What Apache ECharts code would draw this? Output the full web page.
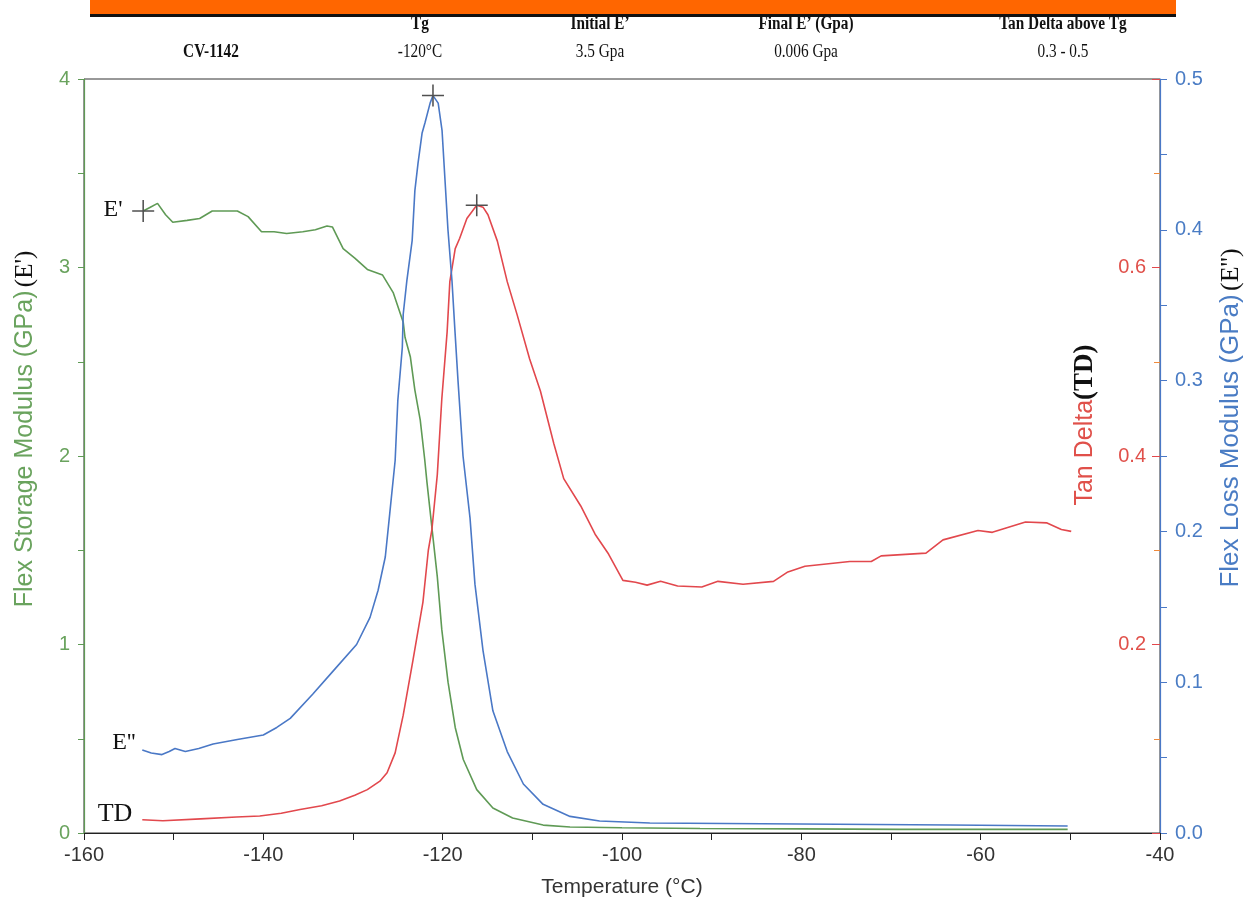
<!DOCTYPE html>
<html>
<head>
<meta charset="utf-8">
<script src="https://cdn.jsdelivr.net/npm/echarts@6/dist/echarts.min.js"></script>
<style>html,body{margin:0;padding:0;background:#fff}#c{width:1250px;height:902px}</style>
</head>
<body>
<div id="c"></div>
<script>
// ---- Data (temperature °C, value) ----
const ePrimeTemp = [-153.4,-152.6,-151.8,-150.9,-150.1,-148.5,-147.1,-145.7,-144.3,-142.9,-141.7,-140.2,-138.8,-137.4,-135.6,-134.2,-132.9,-132.3,-131.1,-129.8,-128.4,-126.7,-125.5,-124.4,-124.2,-123.6,-123.1,-122.5,-122.0,-121.75,-121.2,-120.6,-120.1,-119.4,-118.6,-117.7,-116.2,-114.4,-112.2,-108.8,-105.8,-100,-91.3,-80,-69,-60,-50.3];
const ePrimeVal  = [3.30,3.32,3.34,3.28,3.24,3.25,3.26,3.30,3.30,3.30,3.27,3.19,3.19,3.18,3.19,3.20,3.22,3.215,3.10,3.05,2.99,2.96,2.865,2.71,2.63,2.525,2.35,2.19,1.98,1.86,1.62,1.36,1.08,0.80,0.56,0.39,0.23,0.133,0.08,0.042,0.032,0.028,0.024,0.022,0.019,0.019,0.019];

const eDoubleTemp = [-153.5,-152.5,-151.3,-150.5,-149.85,-148.7,-147.2,-145.6,-142.9,-140.0,-138.5,-137.0,-134.5,-132.2,-129.6,-128.1,-127.2,-126.4,-125.9,-125.3,-125.0,-124.5,-124.4,-124.0,-123.4,-123.1,-122.75,-122.3,-121.97,-121.4,-121.08,-120.5,-120.07,-119.74,-119.41,-118.96,-118.63,-118.29,-117.73,-116.95,-116.4,-115.5,-114.4,-112.8,-111.0,-108.8,-105.8,-102.5,-96.9,-80.2,-63.4,-50.3];
const eDoubleVal  = [0.055,0.053,0.052,0.054,0.056,0.054,0.056,0.059,0.062,0.065,0.070,0.076,0.092,0.1075,0.125,0.143,0.161,0.183,0.212,0.247,0.287,0.322,0.344,0.366,0.393,0.426,0.444,0.464,0.471,0.484,0.489,0.484,0.466,0.433,0.400,0.366,0.333,0.300,0.250,0.209,0.165,0.121,0.081,0.054,0.0325,0.019,0.011,0.008,0.0066,0.006,0.0053,0.0046];

const tanDeltaTemp = [-153.5,-151.2,-147,-143,-140.4,-138,-135.9,-133.5,-131.5,-129.8,-128.4,-127.0,-126.2,-125.3,-124.4,-123.3,-122.2,-121.6,-121.2,-120.6,-120.1,-119.5,-119.2,-118.6,-118.1,-117.3,-116.2,-115.5,-114.95,-113.9,-112.8,-111.7,-110.3,-109.1,-107.6,-106.5,-104.6,-103.0,-101.5,-99.9,-98.5,-97.2,-95.7,-93.8,-91.1,-89.3,-86.5,-83.1,-81.5,-79.6,-74.6,-72.2,-71.1,-66.1,-64.2,-60.3,-58.7,-55.0,-52.6,-51.0,-49.9];
const tanDeltaVal  = [0.014,0.013,0.015,0.017,0.018,0.021,0.025,0.029,0.034,0.040,0.046,0.055,0.064,0.085,0.125,0.184,0.245,0.300,0.322,0.380,0.460,0.532,0.585,0.620,0.631,0.652,0.666,0.664,0.656,0.628,0.585,0.550,0.503,0.469,0.413,0.376,0.347,0.317,0.296,0.268,0.266,0.263,0.267,0.262,0.261,0.267,0.264,0.267,0.277,0.283,0.288,0.288,0.294,0.297,0.311,0.321,0.319,0.330,0.329,0.322,0.320];

const xTicks = [-160,-140,-120,-100,-80,-60,-40];
const tableHeader = ['Tg','Initial E\u2019','Final E\u2019 (Gpa)','Tan Delta above Tg'];
const tableRowName = 'CV-1142';
const tableRow = ['-120\u00B0C','3.5 Gpa','0.006 Gpa','0.3 - 0.5'];

// ---- styles ----
const GREEN = '#5f9a55', BLUE = '#4a78c6', RED = '#e2484d';
const GREEN_T = '#6aa35e', BLUE_T = '#4a7cc4', RED_T = '#e0504a';
const zip = (a, b) => a.map((v, i) => [v, b[i]]);
const crossPath = 'path://M0,9.3H20V10.7H0ZM9.3,0H10.7V20H9.3Z';

const chart = echarts.init(document.getElementById('c'), null, {renderer: 'canvas'});

const colX = [420, 600, 806, 1063];
const graphics = [
  {type: 'rect', shape: {x: 90, y: 0, width: 1086, height: 14}, style: {fill: '#ff6600'}},
  {type: 'rect', shape: {x: 90, y: 14, width: 1086, height: 3}, style: {fill: '#111'}}
];
tableHeader.forEach((t, i) => graphics.push({
  type: 'text', x: colX[i], y: 24, scaleX: 0.85,
  style: {text: t, fill: '#111', font: 'bold 18px "Liberation Serif"', align: 'center', verticalAlign: 'middle', textAlign: 'center', textVerticalAlign: 'middle'}
}));
graphics.push({
  type: 'text', x: 211, y: 52, scaleX: 0.85,
  style: {text: tableRowName, fill: '#111', font: 'bold 18px "Liberation Serif"', align: 'center', verticalAlign: 'middle', textAlign: 'center', textVerticalAlign: 'middle'}
});
tableRow.forEach((t, i) => graphics.push({
  type: 'text', x: colX[i], y: 52, scaleX: 0.85,
  style: {text: t, fill: '#111', font: '18px "Liberation Serif"', align: 'center', verticalAlign: 'middle', textAlign: 'center', textVerticalAlign: 'middle'}
}));
// rotated axis titles
function rotTitle(x, y, text, rich) {
  return {type: 'text', x: x, y: y, rotation: Math.PI / 2,
    style: {text: text, rich: rich, align: 'center', verticalAlign: 'middle', textAlign: 'center', textVerticalAlign: 'middle'}};
}
graphics.push(rotTitle(25, 429, '{g|Flex Storage Modulus (GPa)} {k|(E\')}', {
  g: {fill: GREEN_T, fontSize: 25, fontFamily: 'Liberation Sans'},
  k: {fill: '#111', fontSize: 25, fontFamily: 'Liberation Serif'}
}));
graphics.push(rotTitle(1231, 418, '{b|Flex Loss Modulus (GPa)} {k|(E\'\')}', {
  b: {fill: BLUE_T, fontSize: 26, fontFamily: 'Liberation Sans'},
  k: {fill: '#111', fontSize: 26, fontFamily: 'Liberation Serif'}
}));
graphics.push(rotTitle(1085, 425, '{r|Tan Delta}{k|(TD)}', {
  r: {fill: RED_T, fontSize: 25, fontFamily: 'Liberation Sans'},
  k: {fill: '#111', fontSize: 27, fontFamily: 'Liberation Serif', fontWeight: 'bold'}
}));
// curve labels
[["E'", 113, 210, 24], ["E''", 124, 743, 24], ['TD', 115, 814, 26]].forEach(l => graphics.push({
  type: 'text', x: l[1], y: l[2],
  style: {text: l[0], fill: '#111', font: l[3] + 'px "Liberation Serif"', align: 'center', verticalAlign: 'middle', textAlign: 'center', textVerticalAlign: 'middle'}
}));

const markCross = {symbol: crossPath, symbolSize: 22, itemStyle: {color: '#505050'}, label: {show: false}, silent: true};

const option = {
  backgroundColor: '#fff',
  animation: false,
  grid: {left: 84, right: 90, top: 79, bottom: 69, show: true, borderColor: '#333', borderWidth: 1, backgroundColor: 'transparent', containLabel: false, outerBoundsMode: 'none'},
  xAxis: {
    type: 'value', min: xTicks[0], max: xTicks[xTicks.length - 1], interval: 20,
    name: 'Temperature (\u00B0C)', nameLocation: 'middle', nameGap: 44,
    nameTextStyle: {color: '#333', fontSize: 21, fontFamily: 'Liberation Sans'},
    axisLine: {lineStyle: {color: '#222', width: 1.2}},
    axisTick: {length: 7, lineStyle: {color: '#222'}},
    minorTick: {show: true, splitNumber: 2, length: 7, lineStyle: {color: '#222'}},
    axisLabel: {color: '#333', fontSize: 20, fontFamily: 'Liberation Sans', margin: 12},
    splitLine: {show: false}
  },
  yAxis: [
    {
      type: 'value', min: 0, max: 4, interval: 1, position: 'left',
      axisLine: {show: true, lineStyle: {color: GREEN, width: 1.2}},
      axisTick: {show: true, length: 6, lineStyle: {color: GREEN}},
      minorTick: {show: true, splitNumber: 2, length: 6, lineStyle: {color: GREEN}},
      axisLabel: {color: GREEN_T, fontSize: 20, fontFamily: 'Liberation Sans', margin: 14},
      splitLine: {show: false}
    },
    {
      type: 'value', min: 0, max: 0.5, interval: 0.1, position: 'right',
      axisLine: {show: true, lineStyle: {color: BLUE, width: 1.2}},
      axisTick: {show: true, length: 7, lineStyle: {color: BLUE}},
      minorTick: {show: true, splitNumber: 2, length: 7, lineStyle: {color: BLUE}},
      axisLabel: {color: BLUE_T, fontSize: 20, fontFamily: 'Liberation Sans', margin: 15, formatter: v => v.toFixed(1)},
      splitLine: {show: false}
    },
    {
      type: 'value', min: 0, max: 0.8, interval: 0.2, position: 'right', offset: 0,
      axisLine: {show: false},
      axisTick: {show: true, inside: true, length: 8, lineStyle: {color: RED}},
      minorTick: {show: true, splitNumber: 2, length: 6, lineStyle: {color: '#f08a3a'}},
      axisLabel: {inside: true, color: RED_T, fontSize: 20, fontFamily: 'Liberation Sans', margin: 14, showMinLabel: false, showMaxLabel: false, formatter: v => v.toFixed(1)},
      splitLine: {show: false}
    }
  ],
  graphic: graphics,
  series: [
    {
      name: "E'", type: 'line', yAxisIndex: 0, data: zip(ePrimeTemp, ePrimeVal),
      showSymbol: false, symbol: 'none', lineStyle: {color: GREEN, width: 1.6}, z: 3,
      markPoint: Object.assign({data: [{coord: [ePrimeTemp[0], ePrimeVal[0]]}]}, markCross)
    },
    {
      name: "E''", type: 'line', yAxisIndex: 1, data: zip(eDoubleTemp, eDoubleVal),
      showSymbol: false, symbol: 'none', lineStyle: {color: BLUE, width: 1.6}, z: 4,
      markPoint: Object.assign({data: [{type: 'max'}]}, markCross)
    },
    {
      name: 'TD', type: 'line', yAxisIndex: 2, data: zip(tanDeltaTemp, tanDeltaVal),
      showSymbol: false, symbol: 'none', lineStyle: {color: RED, width: 1.6}, z: 3,
      markPoint: Object.assign({data: [{type: 'max'}]}, markCross)
    }
  ]
};
chart.setOption(option);
</script>
</body>
</html>
